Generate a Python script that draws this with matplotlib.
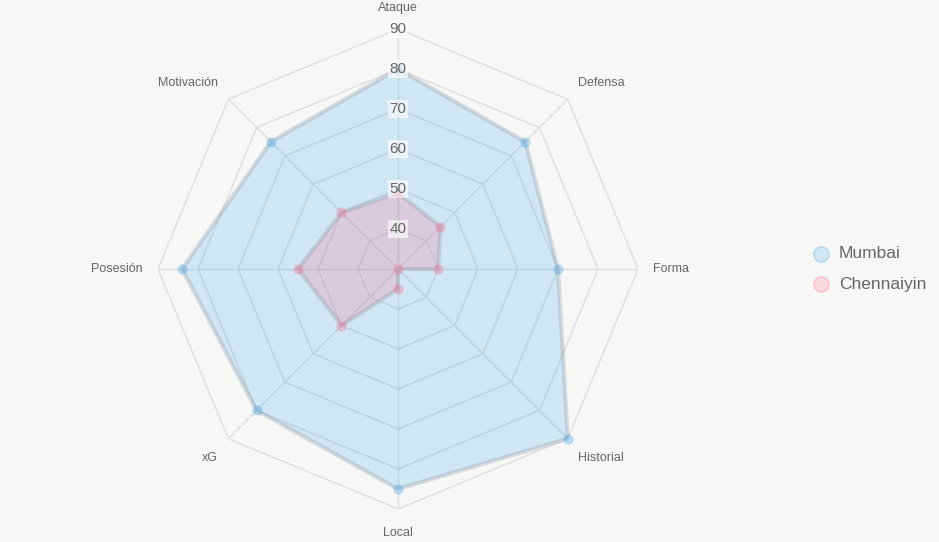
import numpy as np
import matplotlib.pyplot as plt
from matplotlib.transforms import offset_copy

categories = ["Ataque", "Defensa", "Forma", "Historial", "Local", "xG", "Posesión", "Motivación"]
mumbai = [80, 75, 70, 90, 85, 80, 84, 75]
chennaiyin = [49, 45, 40, 30, 35, 50, 55, 50]
ticks = [40, 50, 60, 70, 80, 90]
rmin, rmax = 30, 90

bg = "#f7f7f6"
plt.rcParams["font.family"] = ["Liberation Sans", "DejaVu Sans"]

fig = plt.figure(figsize=(9.39, 5.42), dpi=100, facecolor=bg)
ax = fig.add_axes([0.1683, 0.0609, 0.5112, 0.8856], projection="polar")
ax.set_facecolor("none")
ax.set_theta_offset(np.pi / 2)
ax.set_theta_direction(-1)
ax.set_ylim(rmin, rmax)
ax.grid(False)
ax.set_xticks([])
ax.set_yticks([])
ax.spines["polar"].set_visible(False)

n = len(categories)
angles = np.arange(n) * 2 * np.pi / n
closed = np.append(angles, angles[0])

# polygon grid
for t in ticks:
    ax.plot(closed, [t] * (n + 1), color="#dedede", lw=1, zorder=1)
for a in angles:
    ax.plot([a, a], [rmin, rmax], color="#dedede", lw=1, zorder=1)

series = [
    ("Mumbai", mumbai, (54/255, 162/255, 235/255)),
    ("Chennaiyin", chennaiyin, (255/255, 99/255, 132/255)),
]
for name, vals, col in series:
    v = np.append(vals, vals[0])
    ax.fill(closed, v, color=col, alpha=0.2, lw=0, zorder=2)
    ax.plot(closed, v, color=(0.55, 0.58, 0.62, 0.3), lw=3, zorder=3, clip_on=False)
    ax.plot(angles, vals, "o", ms=6.5, mfc=(*col, 0.3), mec=(*col, 0.2), mew=1, zorder=4,
            clip_on=False)

# tick labels
for t in ticks:
    ax.text(0, t, str(t), ha="center", va="center", fontsize=11, color="#666666", zorder=5,
            bbox=dict(boxstyle="square,pad=0.1", fc=(1, 1, 1, 0.6), ec="none"))

# axis labels
down = offset_copy(ax.transData, fig=fig, x=0, y=-3, units="dots")
for a, lab in zip(angles, categories):
    s, c = np.sin(a), np.cos(a)
    ha = "center" if abs(s) < 0.01 else ("left" if s > 0 else "right")
    va = "center" if abs(c) < 0.01 else ("bottom" if c > 0 else "top")
    tr = down if c < -0.01 else ax.transData
    ax.text(a, 93.8, lab, ha=ha, va=va, fontsize=9, color="#666666", clip_on=False,
            transform=tr)

# legend
for i, (name, vals, col) in enumerate(series):
    y = 1 - (254 + 30 * i) / 542
    fig.lines.append(plt.Line2D([821 / 939], [y], transform=fig.transFigure, marker="o", ms=11,
                                mfc=(*col, 0.2), mec=(*col, 0.3), mew=1, ls="none"))
    fig.text(839 / 939, y, name, ha="left", va="center", fontsize=12.5, color="#666666")

fig.savefig("out.png", dpi=100, facecolor=bg)
